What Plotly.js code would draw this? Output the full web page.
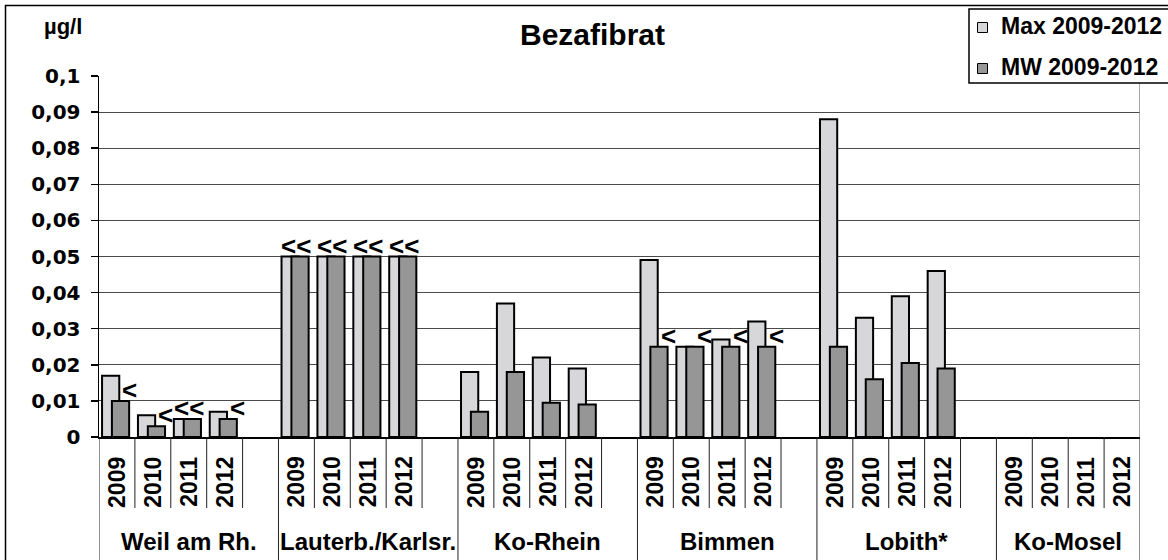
<!DOCTYPE html>
<html>
<head>
<meta charset="utf-8">
<script src="https://cdn.plot.ly/plotly-3.0.1.min.js"></script>
<style>html,body{margin:0;padding:0;background:#fff;}#chart{width:1168px;height:560px;}</style>
</head>
<body>
<div id="chart"></div>
<script>
// ---- data ----
const stations = ['Weil am Rh.', 'Lauterb./Karlsr.', 'Ko-Rhein', 'Bimmen', 'Lobith*', 'Ko-Mosel'];
const years = ['2009', '2010', '2011', '2012'];
const seriesNames = ['Max 2009-2012', 'MW 2009-2012'];
// values per station, 4 years each (µg/l)
const maxValues = [
  0.017, 0.006, 0.005, 0.007,
  0.05, 0.05, 0.05, 0.05,
  0.018, 0.037, 0.022, 0.019,
  0.049, 0.025, 0.027, 0.032,
  0.088, 0.033, 0.039, 0.046,
  null, null, null, null
];
const mwValues = [
  0.010, 0.003, 0.005, 0.005,
  0.05, 0.05, 0.05, 0.05,
  0.007, 0.018, 0.0095, 0.009,
  0.025, 0.025, 0.025, 0.025,
  0.025, 0.016, 0.0205, 0.019,
  null, null, null, null
];
const ltLabels = [
  '<', '<', '<<', '<',
  '<<', '<<', '<<', '<<',
  '', '', '', '',
  '<', '<', '<', '<',
  '', '', '', '',
  '', '', '', ''
];

// ---- geometry helpers (layout only) ----
const W = 1168, H = 560;
const mL = 99, mR = 28, mT = 76, mB = 123;
const pw = W - mL - mR, ph = H - mT - mB;
const PX = x => (x - mL) / pw;
const PY = y => (H - mB - y) / ph;

const slotsPerGroup = years.length + 1;
const nSlots = slotsPerGroup * (stations.length - 1) + years.length;

const xs = [], yearText = [];
stations.forEach((s, g) => years.forEach((y, j) => {
  xs.push(g * slotsPerGroup + j + 0.5);
  yearText.push(y);
}));

const boldArial = {family: 'Liberation Sans, Arial, sans-serif', weight: 'bold', color: '#000'};

const traces = [
  {type: 'bar', name: seriesNames[0], x: xs, y: maxValues, width: 0.48, offset: -0.415,
   marker: {color: '#d7d7da', line: {color: '#000', width: 2}}, hoverinfo: 'y'},
  {type: 'bar', name: seriesNames[1], x: xs, y: mwValues, width: 0.48, offset: -0.14,
   marker: {color: '#969696', line: {color: '#000', width: 2}}, hoverinfo: 'y'}
];

const shapes = [];
const annotations = [];

// outer chart border
shapes.push({type: 'rect', xref: 'paper', yref: 'paper', x0: PX(5.5), x1: PX(1200), y0: PY(600), y1: PY(5.5),
  line: {color: '#000', width: 1.5}, fillcolor: 'rgba(0,0,0,0)'});
// right border of plot area
shapes.push({type: 'line', xref: 'x', yref: 'paper', x0: nSlots, x1: nSlots, y0: 0, y1: 1,
  line: {color: '#8c8c8c', width: 1.5}});

// category dividers below axis
for (let k = 0; k <= nSlots; k++) {
  const isGroup = (k % slotsPerGroup === 0) || k === nSlots;
  shapes.push({type: 'line', xref: 'x', yref: 'paper', x0: k, x1: k, y0: 0,
    y1: isGroup ? PY(560) : PY(508), line: {color: '#222', width: 1}});
}

// year labels
xs.forEach((x, i) => {
  annotations.push({xref: 'x', yref: 'paper', x: x, y: PY(482), text: yearText[i], textangle: -90,
    showarrow: false, xanchor: 'center', yanchor: 'middle', font: Object.assign({size: 23}, boldArial)});
});
// station labels
stations.forEach((s, g) => {
  const n = g < stations.length - 1 ? slotsPerGroup : years.length;
  annotations.push({xref: 'x', yref: 'paper', x: g * slotsPerGroup + n / 2, y: PY(541), text: s,
    showarrow: false, xanchor: 'center', yanchor: 'middle', font: Object.assign({size: 24}, boldArial)});
});
// "<" markers
xs.forEach((x, i) => {
  const t = ltLabels[i];
  if (!t) return;
  annotations.push({xref: 'x', yref: 'y', x: t.length > 1 ? x : x + 0.36, y: mwValues[i], text: t,
    showarrow: false, xanchor: 'center', yanchor: 'bottom', yshift: -6,
    font: Object.assign({size: 26}, boldArial)});
});

// unit label
annotations.push({xref: 'paper', yref: 'paper', x: PX(63), y: PY(27), text: 'µg/l', showarrow: false,
  xanchor: 'center', yanchor: 'middle', font: Object.assign({size: 22}, boldArial)});

// legend box
shapes.push({type: 'rect', xref: 'paper', yref: 'paper', x0: PX(969), x1: PX(1180), y0: PY(83), y1: PY(9),
  line: {color: '#000', width: 1.5}, fillcolor: '#fff'});
const legColors = ['#d7d7da', '#969696'];
const legY = [27.5, 68.5];
seriesNames.forEach((n, i) => {
  shapes.push({type: 'rect', xref: 'paper', yref: 'paper', x0: PX(977.5), x1: PX(987.5),
    y0: PY(legY[i] + 5), y1: PY(legY[i] - 5), line: {color: '#000', width: 1}, fillcolor: legColors[i]});
  annotations.push({xref: 'paper', yref: 'paper', x: PX(999), y: PY(legY[i] - 1.5), text: n, showarrow: false,
    xanchor: 'left', yanchor: 'middle', font: Object.assign({size: 23}, boldArial)});
});

const layout = {
  width: W, height: H,
  margin: {l: mL, r: mR, t: mT, b: mB, pad: 0},
  paper_bgcolor: '#fff', plot_bgcolor: '#fff',
  separators: ', ',
  showlegend: false,
  barmode: 'overlay',
  title: {text: 'Bezafibrat', xref: 'container', yref: 'container', x: 592.5 / W, y: 1 - 34 / H,
    xanchor: 'center', yanchor: 'middle', font: Object.assign({size: 30}, boldArial)},
  xaxis: {type: 'linear', range: [0, nSlots], showgrid: false, zeroline: false, showticklabels: false,
    ticks: '', showline: true, linecolor: '#000', linewidth: 1.5, fixedrange: true},
  yaxis: {range: [0, 0.1], dtick: 0.01, tick0: 0, showgrid: true, gridcolor: '#4a4a4a', gridwidth: 1,
    zeroline: false, showline: true, linecolor: '#000', linewidth: 1.5, ticks: 'outside', ticklen: 7,
    tickcolor: '#000', tickwidth: 1.5, ticklabelstandoff: 6,
    tickfont: {family: 'DejaVu Sans, sans-serif', weight: 'bold', size: 20, color: '#000'}, fixedrange: true},
  shapes: shapes,
  annotations: annotations
};

Plotly.newPlot('chart', traces, layout, {displayModeBar: false, staticPlot: true});
</script>
</body>
</html>
